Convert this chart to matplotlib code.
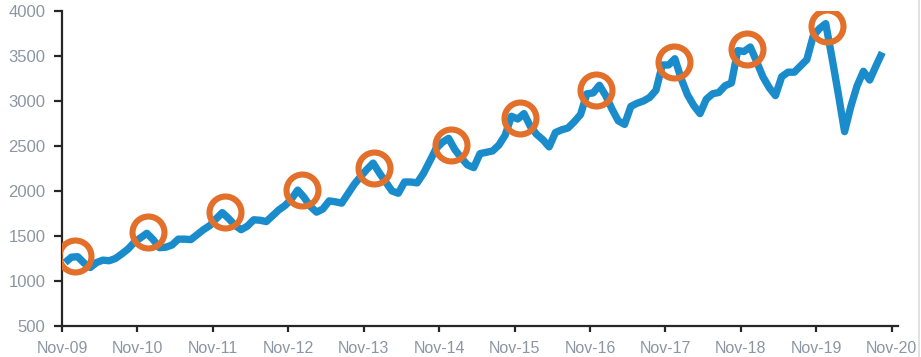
import matplotlib
matplotlib.use("Agg")
import matplotlib.pyplot as plt
import numpy as np
from matplotlib.lines import Line2D

# Monthly series, Dec-09 .. Oct-20
values = [
    1205, 1265, 1270, 1200, 1150, 1205, 1232, 1225, 1250, 1300, 1355, 1430,
    1480, 1530, 1460, 1370, 1375, 1400, 1465, 1465, 1460, 1515, 1570, 1615,
    1690, 1760, 1695, 1620, 1570, 1610, 1680, 1675, 1660, 1725, 1790, 1840,
    1910, 2010, 1930, 1830, 1765, 1800, 1890, 1880, 1865, 1970, 2075, 2160,
    2240, 2310, 2200, 2100, 2000, 1975, 2100, 2100, 2090, 2195, 2330, 2470,
    2540, 2585, 2460, 2370, 2290, 2260, 2415, 2430, 2445, 2510, 2620, 2830,
    2800, 2860, 2720, 2630, 2570, 2490, 2650, 2680, 2700, 2770, 2850, 3080,
    3090, 3175, 3060, 2910, 2780, 2740, 2940, 2975, 3000, 3040, 3120, 3400,
    3400, 3470, 3250, 3070, 2950, 2860, 3020, 3080, 3095, 3170, 3200, 3560,
    3550, 3600, 3440, 3270, 3150, 3060, 3270, 3320, 3320, 3390, 3460, 3720,
    3805, 3860, 3480, 3080, 2660, 2940, 3170, 3330, 3233, 3390, 3540,
]

# Highlight circles (month position from Nov-09, value)
circle_x = [2.07, 13.72, 25.92, 38.12, 49.62, 61.82, 72.84, 85.03, 97.33, 109.05, 121.71]
circle_y = [1278, 1541, 1763, 2011, 2252, 2511, 2808, 3122, 3437, 3574, 3837]

tick_labels = ["Nov-09", "Nov-10", "Nov-11", "Nov-12", "Nov-13", "Nov-14",
               "Nov-15", "Nov-16", "Nov-17", "Nov-18", "Nov-19", "Nov-20"]
y_ticks = [500, 1000, 1500, 2000, 2500, 3000, 3500, 4000]

plt.rcParams['font.family'] = ['Liberation Sans', 'DejaVu Sans']

fig = plt.figure(figsize=(9.21, 3.57), dpi=100)
ax = fig.add_axes([62/921, 1-326/357, (898-62)/921, (326-11)/357])

x = np.arange(len(values)) + 0.5
ax.plot(x, values, color='#1a8ccc', lw=5.3, solid_joinstyle='round', solid_capstyle='butt', zorder=2)
ax.plot(circle_x, circle_y, linestyle='none', marker='o', ms=23, mew=4.4,
        mfc='none', mec='#e2702a', zorder=3)

ax.set_xlim(0, 133)
ax.set_ylim(500, 4000)
ax.set_xticks(np.arange(len(tick_labels)) * 12)
ax.set_xticklabels(tick_labels)
ax.set_yticks(y_ticks)
ax.set_yticklabels([str(v) for v in y_ticks])

for s in ['top', 'right']:
    ax.spines[s].set_visible(False)
for s in ['left', 'bottom']:
    ax.spines[s].set_color('#262626')
    ax.spines[s].set_linewidth(1.6)

ax.tick_params(axis='y', direction='out', length=6, width=1.6, color='#262626',
               labelsize=12, labelcolor='#8c96a2', pad=6)
ax.tick_params(axis='x', direction='out', length=4.5, width=1.6, color='#262626',
               labelsize=11.5, labelcolor='#8c96a2', pad=6)

fig.add_artist(Line2D([918.5/921, 918.5/921], [0, 1], color='#dcdcdc', lw=1.2))

fig.savefig('out.png', dpi=100)
